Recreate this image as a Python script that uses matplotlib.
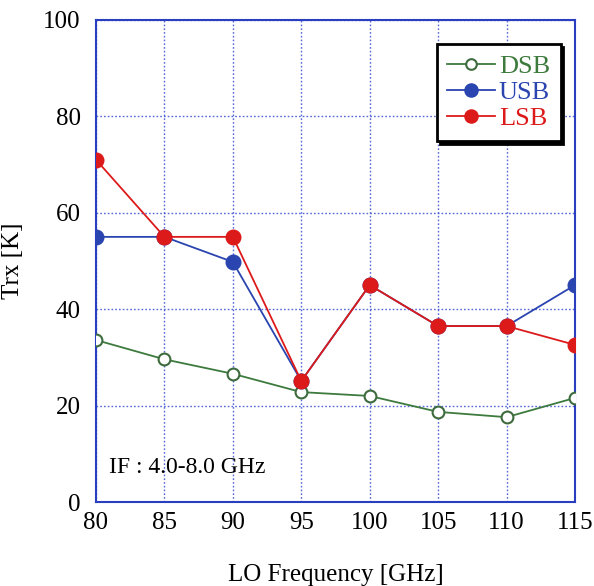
import matplotlib.pyplot as plt

plt.rcParams['font.family'] = ['Liberation Serif', 'DejaVu Serif']

# Dados
freq = [80, 85, 90, 95, 100, 105, 110, 115]
dsb = [33.6, 29.6, 26.6, 22.8, 22.0, 18.7, 17.6, 21.6]
usb = [55.0, 55.0, 49.8, 25.1, 45.0, 36.5, 36.5, 45.0]
lsb = [71.0, 55.0, 55.0, 25.1, 45.0, 36.5, 36.5, 32.6]

azul = '#2a3fbf'

fig = plt.figure(figsize=(5.94, 5.86), dpi=100)
ax = fig.add_axes([0.1616, 0.1433, 0.8064, 0.8227])

ax.plot(freq, dsb, color='#3d7a3d', lw=1.3, marker='o', ms=8.5,
        mfc='white', mec='#3d6b3d', mew=1.5, label='DSB', zorder=3)
ax.plot(freq, usb, color='#2a44b0', lw=1.3, marker='o', ms=10.5,
        mfc='#2a44b0', mec='#2a44b0', label='USB', zorder=4)
ax.plot(freq, lsb, color='#dd1a1a', lw=1.3, marker='o', ms=10.5,
        mfc='#dd1a1a', mec='#dd1a1a', label='LSB', zorder=5)

ax.set_xlim(80, 115)
ax.set_ylim(0, 100)
ax.set_xticks(freq)
ax.set_yticks([0, 20, 40, 60, 80, 100])
ax.grid(True, color='#3a4fd0', ls=(0, (1.2, 1.5)), lw=1.0, alpha=0.85)
for s in ax.spines.values():
    s.set_color(azul)
    s.set_linewidth(1.5)
ax.tick_params(direction='in', length=0, labelsize=18)
ax.tick_params(axis='x', pad=7)
ax.tick_params(axis='y', pad=11)

ax.set_xlabel('LO Frequency [GHz]', fontsize=18, labelpad=22)
ax.set_ylabel('Trx [K]', fontsize=18, labelpad=14)

ax.text(0.027, 0.06, 'IF : 4.0-8.0 GHz', transform=ax.transAxes, fontsize=17)

leg = ax.legend(loc='upper right', bbox_to_anchor=(0.97, 0.95), fontsize=19,
                frameon=True, fancybox=False, shadow={'color': 'black', 'alpha': 1},
                handlelength=1.8, handletextpad=0.15, borderpad=0.4,
                labelspacing=0.1, borderaxespad=0, markerscale=0.9)
leg.get_frame().set_edgecolor('black')
leg.get_frame().set_linewidth(2.0)
for txt, c in zip(leg.get_texts(), ['#3d7a3d', '#2a44b0', '#dd1a1a']):
    txt.set_color(c)

plt.savefig('out.png', dpi=100)
plt.close()
